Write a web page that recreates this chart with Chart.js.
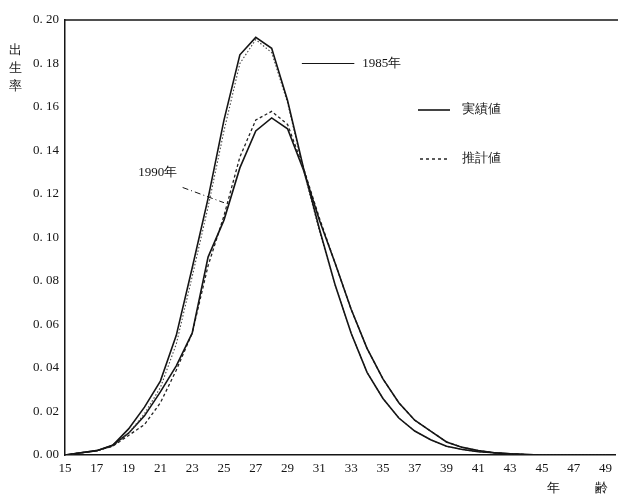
<!DOCTYPE html>
<html>
<head>
<meta charset="utf-8">
<script src="https://cdn.jsdelivr.net/npm/chart.js@4/dist/chart.umd.min.js"></script>
<style>
  html, body { margin: 0; padding: 0; background: #fff; }
  #wrap { width: 618px; height: 497px; position: relative; }
</style>
</head>
<body>
<div id="wrap"><canvas id="birthChart" width="618" height="497"></canvas></div>
<script>
// ages and rates
const ages = [15,16,17,18,19,20,21,22,23,24,25,26,27,28,29,30,31,32,33,34,35,36,37,38,39,40,41,42,43,44,45,46,47,48,49];
const actual1985 = [0.000,0.001,0.002,0.0045,0.012,0.022,0.034,0.055,0.086,0.118,0.154,0.184,0.192,0.187,0.163,0.132,0.104,0.078,0.056,0.038,0.026,0.017,0.011,0.007,0.004,0.0025,0.0015,0.001,0.0005,0.0002,0,0,0,0,0];
const estimate1985 = [0.000,0.001,0.002,0.004,0.010,0.019,0.031,0.051,0.082,0.114,0.149,0.180,0.191,0.185,0.162,0.131,0.103,0.078,0.056,0.038,0.026,0.017,0.011,0.007,0.004,0.0025,0.0015,0.001,0.0005,0.0002,0,0,0,0,0];
const actual1990 = [0.000,0.001,0.002,0.0045,0.010,0.018,0.029,0.041,0.056,0.091,0.108,0.132,0.149,0.155,0.150,0.131,0.108,0.088,0.067,0.049,0.035,0.024,0.016,0.011,0.006,0.0035,0.002,0.001,0.0005,0.0002,0,0,0,0,0];
const estimate1990 = [0.000,0.001,0.002,0.004,0.009,0.014,0.024,0.039,0.056,0.087,0.110,0.137,0.154,0.158,0.152,0.132,0.109,0.088,0.067,0.049,0.035,0.024,0.016,0.011,0.006,0.0035,0.002,0.001,0.0005,0.0002,0,0,0,0,0];
const xTicks = [15,17,19,21,23,25,27,29,31,33,35,37,39,41,43,45,47,49];
const yTicks = [0,0.02,0.04,0.06,0.08,0.10,0.12,0.14,0.16,0.18,0.20];

const serif = '"Liberation Serif", "DejaVu Serif", serif';
const ink = '#151515';

function pts(values) {
    return ages.map((a, i) => ({ x: a, y: values[i] }));
}

// extra drawing: top frame line, legend, year labels, axis titles
const decorations = {
    id: 'decorations',
    afterDraw(chart) {
        const ctx = chart.ctx;
        const area = chart.chartArea;
        const xs = chart.scales.x;
        const ys = chart.scales.y;
        ctx.save();
        ctx.strokeStyle = ink;
        ctx.fillStyle = ink;

        // top border
        ctx.lineWidth = 1.5;
        ctx.beginPath();
        ctx.moveTo(area.left, area.top);
        ctx.lineTo(chart.width, area.top);
        ctx.stroke();

        ctx.font = '13px ' + serif;
        ctx.textBaseline = 'middle';
        ctx.textAlign = 'left';

        // 1985 label with leader
        let ly = ys.getPixelForValue(0.180);
        ctx.lineWidth = 1;
        ctx.beginPath();
        ctx.moveTo(xs.getPixelForValue(29.9), ly);
        ctx.lineTo(xs.getPixelForValue(33.2), ly);
        ctx.stroke();
        ctx.fillText('1985年', xs.getPixelForValue(33.7), ly);

        // 1990 label with dashed leader
        ctx.fillText('1990年', xs.getPixelForValue(19.6), ys.getPixelForValue(0.130));
        ctx.setLineDash([6, 3, 1, 3]);
        ctx.beginPath();
        ctx.moveTo(xs.getPixelForValue(22.4), ys.getPixelForValue(0.123));
        ctx.lineTo(xs.getPixelForValue(25.0), ys.getPixelForValue(0.116));
        ctx.stroke();
        ctx.setLineDash([]);

        // legend
        ctx.lineWidth = 1.6;
        ctx.beginPath();
        ctx.moveTo(418, 110);
        ctx.lineTo(450, 110);
        ctx.stroke();
        ctx.lineWidth = 1.4;
        ctx.setLineDash([3, 3]);
        ctx.beginPath();
        ctx.moveTo(420, 159);
        ctx.lineTo(450, 159);
        ctx.stroke();
        ctx.setLineDash([]);
        ctx.fillText('実績値', 462, 110);
        ctx.fillText('推計値', 462, 159);

        // y axis title, stacked
        ctx.textAlign = 'center';
        ['出', '生', '率'].forEach((ch, i) => ctx.fillText(ch, 15, 51 + i * 18));

        // x axis title
        ctx.fillText('年', 553, 489);
        ctx.fillText('齢', 601, 489);
        ctx.restore();
    }
};

const ctx = document.getElementById('birthChart').getContext('2d');
const birthChart = new Chart(ctx, {
    type: 'line',
    data: {
        datasets: [
            { label: '1985 実績値', data: pts(actual1985), borderColor: ink, borderWidth: 1.6 },
            { label: '1985 推計値', data: pts(estimate1985), borderColor: '#444', borderWidth: 1.1, borderDash: [1.5, 2] },
            { label: '1990 実績値', data: pts(actual1990), borderColor: ink, borderWidth: 1.6 },
            { label: '1990 推計値', data: pts(estimate1990), borderColor: '#222', borderWidth: 1.3, borderDash: [3, 2.5] }
        ]
    },
    options: {
        responsive: false,
        animation: false,
        layout: { padding: { top: 20, right: 0, left: 0, bottom: 0 } },
        elements: {
            line: { tension: 0, fill: false },
            point: { radius: 0 }
        },
        scales: {
            x: {
                type: 'linear',
                min: 15,
                max: 49.6,
                grid: { display: false, drawTicks: false },
                border: { display: true, color: ink, width: 1.5 },
                afterBuildTicks: function(scale) {
                    scale.ticks = xTicks.map(v => ({ value: v }));
                },
                afterFit: function(scale) { scale.height = 42; },
                ticks: {
                    color: ink,
                    padding: 6,
                    maxRotation: 0,
                    autoSkip: false,
                    font: { family: serif, size: 13 },
                    callback: function(value) { return String(value); }
                }
            },
            y: {
                min: 0,
                max: 0.20,
                grid: { display: false, drawTicks: false },
                border: { display: true, color: ink, width: 1.5 },
                afterBuildTicks: function(scale) {
                    scale.ticks = yTicks.map(v => ({ value: v }));
                },
                afterFit: function(scale) { scale.width = 65; },
                ticks: {
                    color: ink,
                    padding: 6,
                    font: { family: serif, size: 13 },
                    callback: function(value) { return value.toFixed(2).replace('.', '. '); }
                }
            }
        },
        plugins: {
            legend: { display: false },
            tooltip: { enabled: false }
        }
    },
    plugins: [decorations]
});
</script>
</body>
</html>
